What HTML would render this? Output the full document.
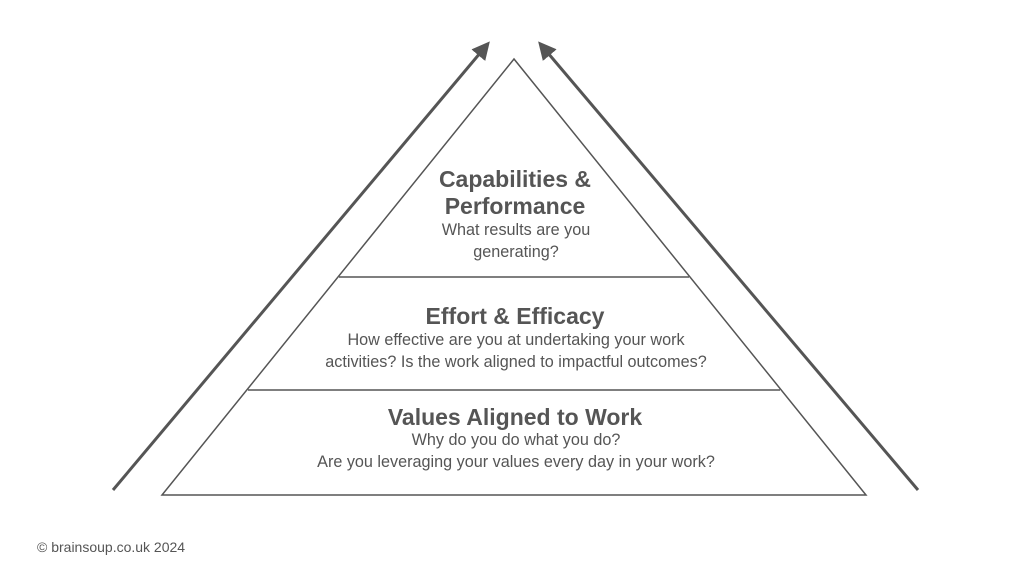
<!DOCTYPE html>
<html><head><style>
body{margin:0;width:1024px;height:578px;background:#fff;overflow:hidden;position:relative;font-family:"Liberation Sans",Arial,sans-serif;color:#555}
.t{position:absolute;width:1024px;text-align:center;left:4px}
.h{font-weight:bold;font-size:23px;line-height:27px;left:3px}
.p{font-size:16.2px;line-height:22px}
</style></head><body>
<svg width="1024" height="578" style="position:absolute;left:0;top:0">
<defs><marker id="a" markerWidth="6" markerHeight="6" refX="4" refY="3" orient="auto" markerUnits="strokeWidth"><path d="M0,0 L6,3 L0,6 Z" fill="#555"/></marker></defs>
<polygon points="514,59 162,495 866,495" fill="none" stroke="#555" stroke-width="1.5"/>
<line x1="339" y1="277" x2="689" y2="277" stroke="#555" stroke-width="1.5"/>
<line x1="248" y1="390" x2="780" y2="390" stroke="#555" stroke-width="1.5"/>
<line x1="113" y1="490" x2="486" y2="46" stroke="#555" stroke-width="3" marker-end="url(#a)"/>
<line x1="918" y1="490" x2="542" y2="46" stroke="#555" stroke-width="3" marker-end="url(#a)"/>
</svg>
<div class="t h" style="top:166px">Capabilities &amp;<br>Performance</div>
<div class="t p" style="top:219px">What results are you<br>generating?</div>
<div class="t h" style="top:303px">Effort &amp; Efficacy</div>
<div class="t p" style="top:329px">How effective are you at undertaking your work<br>activities? Is the work aligned to impactful outcomes?</div>
<div class="t h" style="top:404px">Values Aligned to Work</div>
<div class="t p" style="top:429px">Why do you do what you do?<br>Are you leveraging your values every day in your work?</div>
<div style="position:absolute;left:37px;top:539px;font-size:14px;color:#555">© brainsoup.co.uk 2024</div>
</body></html>
